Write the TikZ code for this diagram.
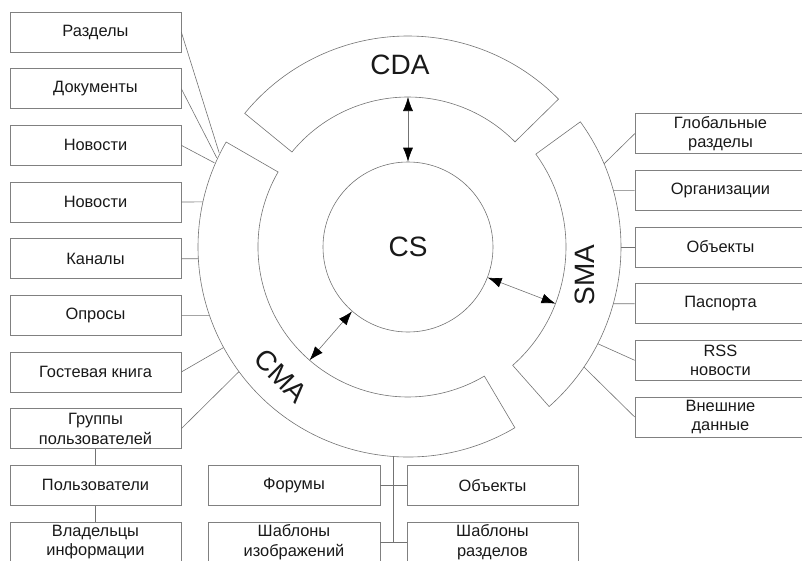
\documentclass[tikz,border=0pt]{standalone}
\usepackage{fontspec}
\setmainfont{Liberation Sans}
\usetikzlibrary{arrows.meta}
\begin{document}
\begin{tikzpicture}[x=1pt,y=1pt,
  box/.style={draw=black!50, line width=0.6pt, minimum width=171pt, minimum height=40pt, inner sep=0pt, align=center, font=\fontsize{16.4}{19.5}\selectfont, text=black!90},
  conn/.style={draw=black!55, line width=0.6pt},
  seg/.style={draw=black!55, line width=0.6pt},
  dbl/.style={draw=black!55, line width=0.6pt, {Latex[length=14pt,width=10pt,color=black]}-{Latex[length=14pt,width=10pt,color=black]}},
  big/.style={font=\fontsize{28}{28}\selectfont, text=black!90}]
\useasboundingbox (-408,-313) rectangle (394,247);

% ring segments
\draw[seg] (44.5:150) arc[start angle=44.5, end angle=140.7, radius=150] -- (140.7:211) arc[start angle=140.7, end angle=44.5, radius=211] -- cycle;
\draw[seg] (-48.5:158) arc[start angle=-48.5, end angle=36, radius=158] -- (36:213) arc[start angle=36, end angle=-48.5, radius=213] -- cycle;
\draw[seg] (150:150) arc[start angle=150, end angle=300.6, radius=150] -- (300.6:210) arc[start angle=300.6, end angle=150, radius=210] -- cycle;

% core
\node[circle, draw=black!55, line width=0.6pt, minimum size=170pt, inner sep=0pt, big] (cs) at (0,0) {CS};

% labels of segments
\node[big] (cda) at (-8,182) {CDA};
\node[big, rotate=90] (sma) at (177,-28) {SMA};
\node[big, rotate=-45, inner sep=0pt] (cma) at (-127,-129) {CMA};

% arrow end points
\coordinate (cdain) at (90:150);
\coordinate (smain) at (-21:158);
\coordinate (cmain) at (229:150);
\draw[dbl] (cs.90) -- (cdain);
\draw[dbl] (cs.-21) -- (smain);
\draw[dbl] (cs.229) -- (cmain);

% left column
\node[box] (l1) at (-312.5,215) {Разделы};
\node[box] (l2) at (-312.5,158.3) {Документы};
\node[box] (l3) at (-312.5,101.7) {Новости};
\node[box] (l4) at (-312.5,45) {Новости};
\node[box] (l5) at (-312.5,-11.7) {Каналы};
\node[box] (l6) at (-312.5,-68.3) {Опросы};
\node[box] (l7) at (-312.5,-125) {Гостевая книга};
\node[box] (l8) at (-312.5,-181.7) {Группы\\пользователей};
\node[box] (l9) at (-312.5,-238.3) {Пользователи};
\node[box] (l10) at (-312.5,-295) {Владельцы\\информации};

% right column
\node[box] (r1) at (312.5,113.3) {Глобальные\\разделы};
\node[box] (r2) at (312.5,56.7) {Организации};
\node[box] (r3) at (312.5,0) {Объекты};
\node[box] (r4) at (312.5,-56.7) {Паспорта};
\node[box] (r5) at (312.5,-113.3) {RSS\\новости};
\node[box] (r6) at (312.5,-170) {Внешние\\данные};

% bottom boxes
\node[box, minimum width=172pt] (b1) at (-114,-238.3) {Форумы};
\node[box] (b2) at (84.5,-238.3) {Объекты};
\node[box, minimum width=172pt] (b3) at (-114,-295) {Шаблоны\\изображений};
\node[box] (b4) at (84.5,-295) {Шаблоны\\разделов};

% anchor points on CMA
\coordinate (a1) at (153.5:211);
\coordinate (a2) at (155:211);
\coordinate (a3) at (156.5:211);
\coordinate (a4) at (167.6:210);
\coordinate (a5) at (183.2:210);
\coordinate (a6) at (199:210);
\coordinate (a7) at (208.6:210);
\coordinate (a8) at (216.4:210);
\draw[conn] (l1.east) -- (a1);
\draw[conn] (l2.east) -- (a2);
\draw[conn] (l3.east) -- (a3);
\draw[conn] (l4.east) -- (a4);
\draw[conn] (l5.east) -- (a5);
\draw[conn] (l6.east) -- (a6);
\draw[conn] (l7.east) -- (a7);
\draw[conn] (l8.east) -- (a8);
\draw[conn] (l8.south) -- (l9.north);
\draw[conn] (l9.south) -- (l10.north);

% anchor points on SMA
\coordinate (s1) at (23:213);
\coordinate (s2) at (15.44:213);
\coordinate (s3) at (0:213);
\coordinate (s4) at (-15.44:213);
\coordinate (s5) at (-27:213);
\coordinate (s6) at (-34.3:213);
\draw[conn] (r1.west) -- (s1);
\draw[conn] (r2.west) -- (s2);
\draw[conn] (r3.west) -- (s3);
\draw[conn] (r4.west) -- (s4);
\draw[conn] (r5.west) -- (s5);
\draw[conn] (r6.west) -- (s6);

% bottom tree
\coordinate (j0) at (-15,-209.5);
\coordinate (j2) at (-15,-295);
\draw[conn] (j0) -- (j2);
\draw[conn] (b1.east) -- (b2.west);
\draw[conn] (b3.east) -- (b4.west);
\end{tikzpicture}
\end{document}
